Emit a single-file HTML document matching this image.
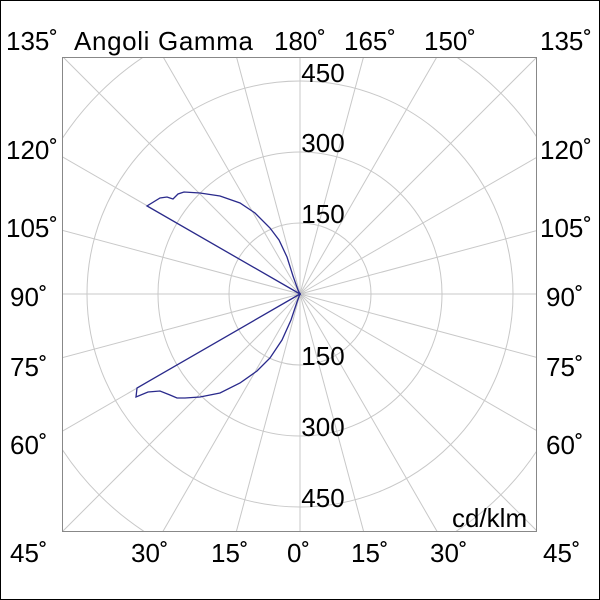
<!DOCTYPE html>
<html><head><style>
html,body{margin:0;padding:0;background:#fff;overflow:hidden;width:600px;height:600px}
svg{display:block}
text{font-family:"Liberation Sans",Arial,sans-serif;font-size:26px;fill:#000}
</style></head><body>
<svg width="600" height="600" viewBox="0 0 600 600">
<rect x="0.5" y="0.5" width="599" height="599" fill="#fff" stroke="#000"/>
<defs><clipPath id="c"><rect x="63" y="57" width="474" height="474"/></clipPath></defs>
<g clip-path="url(#c)" stroke="#c8c8c8" stroke-width="1" fill="none">
<circle cx="300" cy="294" r="71"/><circle cx="300" cy="294" r="142"/><circle cx="300" cy="294" r="213"/><circle cx="300" cy="294" r="284"/><circle cx="300" cy="294" r="355"/>
<g id="rad">
<line x1="300" y1="294" x2="300" y2="-400"/>
<line x1="300" y1="294" x2="300" y2="-400" transform="rotate(15 300 294)"/>
<line x1="300" y1="294" x2="300" y2="-400" transform="rotate(30 300 294)"/>
<line x1="300" y1="294" x2="300" y2="-400" transform="rotate(45 300 294)"/>
<line x1="300" y1="294" x2="300" y2="-400" transform="rotate(60 300 294)"/>
<line x1="300" y1="294" x2="300" y2="-400" transform="rotate(75 300 294)"/>
<line x1="300" y1="294" x2="300" y2="-400" transform="rotate(90 300 294)"/>
<line x1="300" y1="294" x2="300" y2="-400" transform="rotate(105 300 294)"/>
<line x1="300" y1="294" x2="300" y2="-400" transform="rotate(120 300 294)"/>
<line x1="300" y1="294" x2="300" y2="-400" transform="rotate(135 300 294)"/>
<line x1="300" y1="294" x2="300" y2="-400" transform="rotate(150 300 294)"/>
<line x1="300" y1="294" x2="300" y2="-400" transform="rotate(165 300 294)"/>
</g>
<use href="#rad" transform="rotate(180 300 294)"/>
</g>
<rect x="62.5" y="57.5" width="474" height="474" fill="none" stroke="#888" stroke-width="1"/>
<g fill="none" stroke="#2a2a8c" stroke-width="1.3">
<path d="M300,294 L147,206 L160,198 L167,197 L173,199 L178,194 L184,192 L200,193 L220,196 L240,203 L255,213 L270,228 L279,240 L287,257 L293,276 L298,290 Z"/>
<path d="M300,294 L137,388 L136,397 L148,392 L160,391 L170,395 L177,398 L185,398 L200,397 L220,393 L240,383 L257,371 L270,358 L282,340 L291,320 L297,302 Z"/>
</g>
<g>
<text x="6" y="50">135˚</text>
<text x="74" y="50" textLength="179">Angoli Gamma</text>
<text x="274" y="50">180˚</text>
<text x="344" y="50">165˚</text>
<text x="424" y="50">150˚</text>
<text x="540" y="50">135˚</text>
<text x="6" y="159">120˚</text>
<text x="6" y="237">105˚</text>
<text x="10" y="306">90˚</text>
<text x="10" y="376">75˚</text>
<text x="10" y="454">60˚</text>
<text x="540" y="159">120˚</text>
<text x="540" y="237">105˚</text>
<text x="546" y="306">90˚</text>
<text x="546" y="376">75˚</text>
<text x="546" y="454">60˚</text>
<text x="10" y="562">45˚</text>
<text x="131" y="562">30˚</text>
<text x="211" y="562">15˚</text>
<text x="287" y="562">0˚</text>
<text x="351" y="562">15˚</text>
<text x="430" y="562">30˚</text>
<text x="543" y="562">45˚</text>
<text x="323" y="82" text-anchor="middle">450</text>
<text x="323" y="152" text-anchor="middle">300</text>
<text x="323" y="223" text-anchor="middle">150</text>
<text x="323" y="365" text-anchor="middle">150</text>
<text x="323" y="436" text-anchor="middle">300</text>
<text x="323" y="507" text-anchor="middle">450</text>
<text x="452" y="527">cd/klm</text>
</g>
</svg>
</body></html>
